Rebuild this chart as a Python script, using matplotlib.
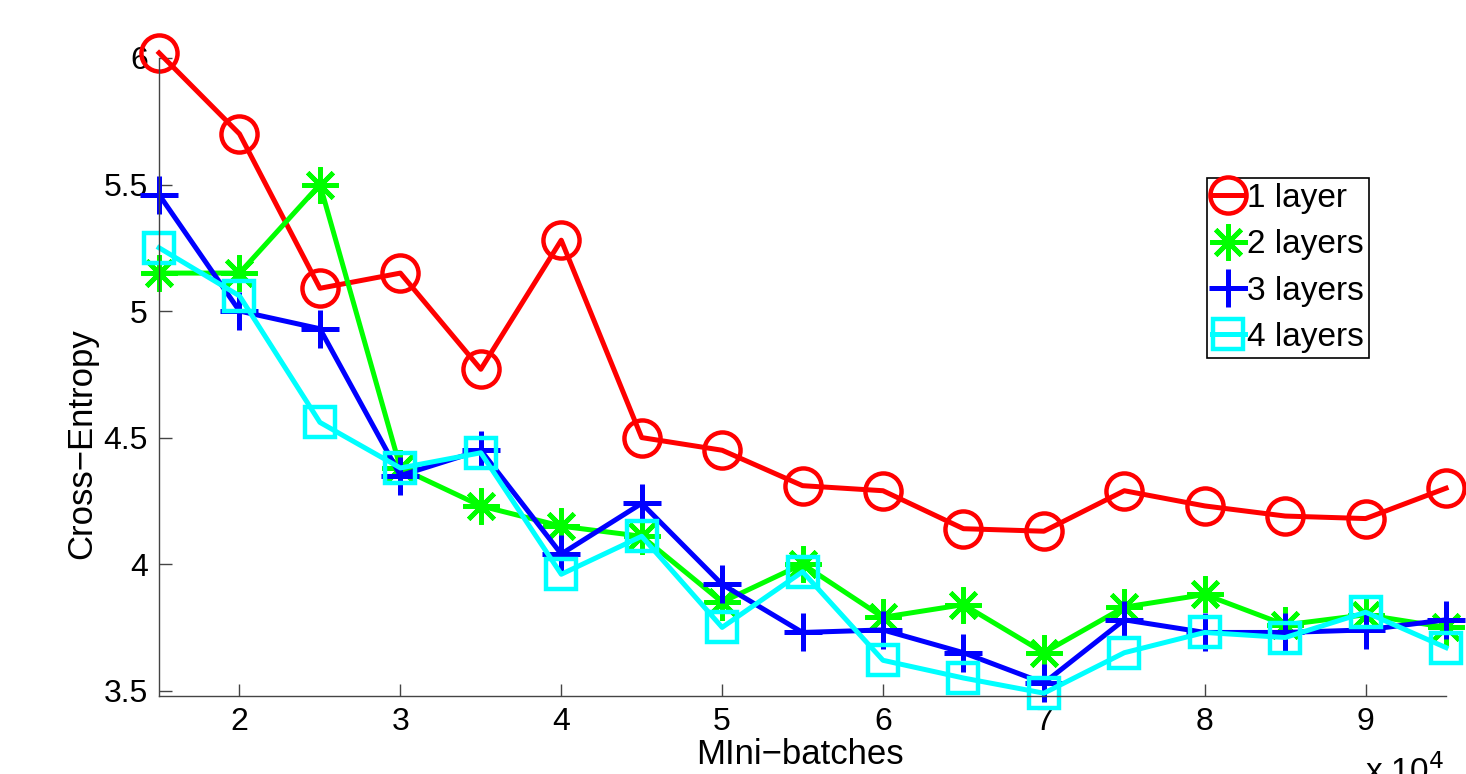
import matplotlib
matplotlib.use('Agg')
import matplotlib.pyplot as plt

plt.rcParams['font.family'] = ['Liberation Sans', 'DejaVu Sans']

# mini-batches (x 10^4)
mini_batches = [1.5, 2, 2.5, 3, 3.5, 4, 4.5, 5, 5.5, 6, 6.5, 7, 7.5, 8, 8.5, 9, 9.5]

# cross-entropy per model depth
layer1 = [6.02, 5.70, 5.09, 5.15, 4.77, 5.28, 4.50, 4.45, 4.31, 4.29, 4.14, 4.13, 4.29, 4.23, 4.19, 4.18, 4.30]
layer2 = [5.15, 5.15, 5.50, 4.38, 4.23, 4.15, 4.11, 3.85, 4.00, 3.79, 3.84, 3.65, 3.83, 3.88, 3.76, 3.80, 3.75]
layer3 = [5.46, 5.00, 4.93, 4.35, 4.45, 4.04, 4.24, 3.92, 3.73, 3.74, 3.65, 3.53, 3.78, 3.73, 3.73, 3.74, 3.78]
layer4 = [5.25, 5.06, 4.56, 4.38, 4.44, 3.96, 4.11, 3.75, 3.97, 3.62, 3.55, 3.49, 3.65, 3.73, 3.71, 3.81, 3.67]

labels = ['1 layer', '2 layers', '3 layers', '4 layers']
xticks = [2, 3, 4, 5, 6, 7, 8, 9]
yticks = [3.5, 4, 4.5, 5, 5.5, 6]

fig = plt.figure(figsize=(14.66, 7.74), dpi=100)
ax = fig.add_axes([0.1085, 0.1008, 0.8779, 0.8243])

# 圆圈、星号、加号、方块
ax.plot(mini_batches, layer1, color='#ff0000', lw=3.6, marker='o', ms=26,
        mfc='none', mew=3.2, label=labels[0], clip_on=False)
ax.plot(mini_batches, layer2, color='#00ff00', lw=3.6, marker=(8, 2, 0), ms=26,
        mew=3.4, label=labels[1], clip_on=False)
ax.plot(mini_batches, layer3, color='#0000ff', lw=3.6, marker='+', ms=28,
        mew=3.6, label=labels[2], clip_on=False)
ax.plot(mini_batches, layer4, color='#00ffff', lw=3.6, marker='s', ms=22,
        mfc='none', mew=3.2, label=labels[3], clip_on=False)

ax.set_xlim(1.5, 9.5)
ax.set_ylim(3.479, 6.0)
ax.set_xticks(xticks)
ax.set_xticklabels([str(t) for t in xticks])
ax.set_yticks(yticks)
ax.set_yticklabels(['3.5', '4', '4.5', '5', '5.5', '6'])

for s in ['top', 'right']:
    ax.spines[s].set_visible(False)
for s in ['left', 'bottom']:
    ax.spines[s].set_color('#444444')
    ax.spines[s].set_linewidth(1.0)
ax.tick_params(direction='in', length=9, width=1.0, color='#444444',
               labelsize=23, pad=8)

ax.set_xlabel('MIni−batches', fontsize=25)
ax.xaxis.set_label_coords(0.498, -0.066)
ax.set_ylabel('Cross−Entropy', fontsize=25)
ax.yaxis.set_label_coords(-0.047, 0.395)

fig.text(1405 / 1466, -0.010, r'x 10$^4$', fontsize=24, ha='center', va='baseline')

leg = ax.legend(loc='upper left', bbox_to_anchor=(0.814, 0.812), fontsize=24,
                handlelength=1.0, handletextpad=0.05, borderpad=0.15,
                labelspacing=0.46, borderaxespad=0, fancybox=False, framealpha=1)
leg.get_frame().set_edgecolor('black')
leg.get_frame().set_linewidth(1.2)

fig.savefig('out.png', dpi=100)
